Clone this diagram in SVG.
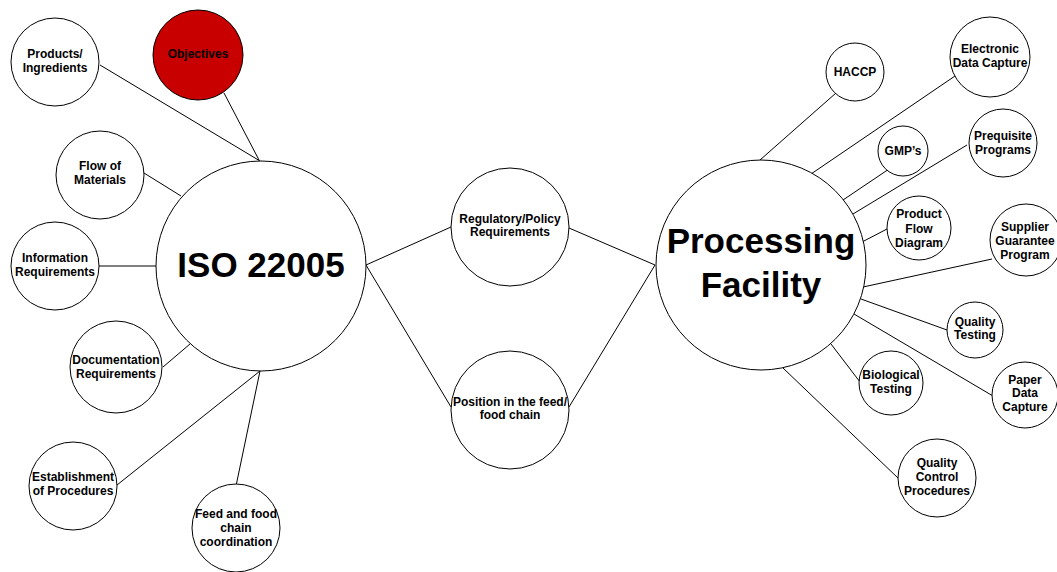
<svg xmlns="http://www.w3.org/2000/svg" width="1057" height="572" viewBox="0 0 1057 572">
  <style>
    .node circle { fill: #ffffff; stroke: #000000; stroke-width: 1; }
    .node.hot circle { fill: #c80000; }
    .node text { font-family: "Liberation Sans", Arial, sans-serif; font-size: 12px; font-weight: bold; text-anchor: middle; fill: #000000; }
    .node.hub text { font-size: 35px; }
    #connectors line { stroke: #000000; stroke-width: 1; }
  </style>
  <rect width="1057" height="572" fill="#ffffff"/>

  <g id="connectors">
    <!-- ISO 22005 spokes -->
    <line x1="100" y1="65" x2="260" y2="161"/>
    <line x1="224" y1="93" x2="259" y2="160"/>
    <line x1="144" y1="173" x2="181" y2="196"/>
    <line x1="99" y1="266" x2="156" y2="266"/>
    <line x1="163" y1="367" x2="190" y2="344"/>
    <line x1="117" y1="485" x2="260" y2="371"/>
    <line x1="236" y1="486" x2="260" y2="371"/>
    <!-- middle bridge -->
    <line x1="366" y1="265" x2="451" y2="227"/>
    <line x1="569" y1="228" x2="655" y2="265"/>
    <line x1="366" y1="265" x2="451" y2="407"/>
    <line x1="569" y1="407" x2="655" y2="265"/>
    <!-- Processing Facility spokes -->
    <line x1="760" y1="160" x2="836" y2="93"/>
    <line x1="811" y1="174" x2="955" y2="76"/>
    <line x1="843" y1="200" x2="889" y2="169"/>
    <line x1="853" y1="214" x2="967" y2="145"/>
    <line x1="862" y1="242" x2="887" y2="229"/>
    <line x1="863" y1="287" x2="992" y2="259"/>
    <line x1="861" y1="299" x2="947" y2="330"/>
    <line x1="854" y1="314" x2="993" y2="396"/>
    <line x1="831" y1="344" x2="860" y2="382"/>
    <line x1="783" y1="368" x2="898" y2="478"/>
  </g>

  <!-- left hub -->
  <g id="iso22005" class="node hub">
    <circle cx="261" cy="266" r="105"/>
    <text x="261" y="277">ISO 22005</text>
  </g>
  <g id="products" class="node">
    <circle cx="55" cy="62" r="44"/>
    <text x="55" y="58">Products/</text>
    <text x="55" y="72">Ingredients</text>
  </g>
  <g id="objectives" class="node hot">
    <circle cx="198" cy="55" r="45"/>
    <text x="198" y="58">Objectives</text>
  </g>
  <g id="flow-materials" class="node">
    <circle cx="100" cy="175" r="44"/>
    <text x="100" y="170">Flow of</text>
    <text x="100" y="184">Materials</text>
  </g>
  <g id="information" class="node">
    <circle cx="55" cy="266" r="44"/>
    <text x="55" y="262">Information</text>
    <text x="55" y="276">Requirements</text>
  </g>
  <g id="documentation" class="node">
    <circle cx="116" cy="367" r="46"/>
    <text x="116" y="364">Documentation</text>
    <text x="116" y="378">Requirements</text>
  </g>
  <g id="establishment" class="node">
    <circle cx="73" cy="486" r="44"/>
    <text x="73" y="481">Establishment</text>
    <text x="73" y="495">of Procedures</text>
  </g>
  <g id="feed-coordination" class="node">
    <circle cx="236" cy="528" r="44"/>
    <text x="236" y="518">Feed and food</text>
    <text x="236" y="532">chain</text>
    <text x="236" y="546">coordination</text>
  </g>

  <!-- middle -->
  <g id="regulatory" class="node">
    <circle cx="510" cy="227" r="59"/>
    <text x="510" y="223">Regulatory/Policy</text>
    <text x="510" y="236">Requirements</text>
  </g>
  <g id="position" class="node">
    <circle cx="510" cy="410" r="59"/>
    <text x="510" y="406">Position in the feed/</text>
    <text x="510" y="419">food chain</text>
  </g>

  <!-- right hub -->
  <g id="processing" class="node hub">
    <circle cx="761" cy="265" r="105"/>
    <text x="761" y="253">Processing</text>
    <text x="761" y="297">Facility</text>
  </g>
  <g id="haccp" class="node">
    <circle cx="855" cy="72" r="29"/>
    <text x="855" y="76">HACCP</text>
  </g>
  <g id="electronic-capture" class="node">
    <circle cx="990" cy="57" r="40"/>
    <text x="990" y="53">Electronic</text>
    <text x="990" y="67">Data Capture</text>
  </g>
  <g id="gmps" class="node">
    <circle cx="903" cy="151" r="25"/>
    <text x="903" y="155">GMP’s</text>
  </g>
  <g id="prequisite" class="node">
    <circle cx="1003" cy="143" r="34"/>
    <text x="1003" y="140">Prequisite</text>
    <text x="1003" y="154">Programs</text>
  </g>
  <g id="product-flow" class="node">
    <circle cx="919" cy="228" r="32"/>
    <text x="919" y="218">Product</text>
    <text x="919" y="233">Flow</text>
    <text x="919" y="247">Diagram</text>
  </g>
  <g id="supplier" class="node">
    <circle cx="1026" cy="240" r="36"/>
    <text x="1025" y="231">Supplier</text>
    <text x="1025" y="245">Guarantee</text>
    <text x="1025" y="259">Program</text>
  </g>
  <g id="quality-testing" class="node">
    <circle cx="975" cy="330" r="28"/>
    <text x="975" y="326">Quality</text>
    <text x="975" y="339">Testing</text>
  </g>
  <g id="biological" class="node">
    <circle cx="891" cy="383" r="32"/>
    <text x="891" y="379">Biological</text>
    <text x="891" y="393">Testing</text>
  </g>
  <g id="paper-capture" class="node">
    <circle cx="1025" cy="395" r="33"/>
    <text x="1025" y="384">Paper</text>
    <text x="1025" y="397">Data</text>
    <text x="1025" y="411">Capture</text>
  </g>
  <g id="qc-procedures" class="node">
    <circle cx="937" cy="478" r="39"/>
    <text x="937" y="467">Quality</text>
    <text x="937" y="481">Control</text>
    <text x="937" y="495">Procedures</text>
  </g>
</svg>
